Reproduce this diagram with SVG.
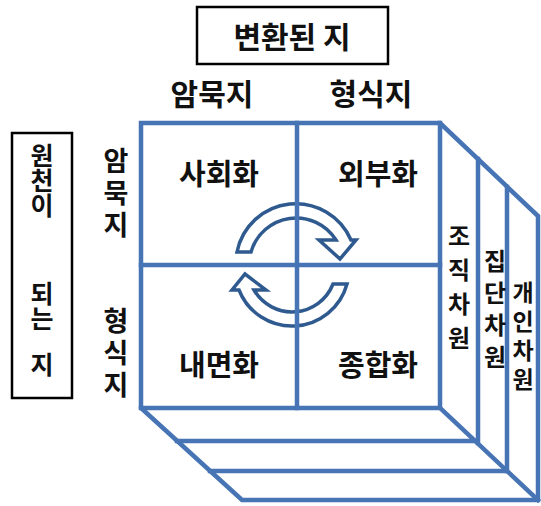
<svg xmlns="http://www.w3.org/2000/svg" width="541" height="506" viewBox="0 0 541 506">
<style>
.ln{fill:none;stroke:#4674B4;stroke-width:4.5;stroke-linejoin:miter;stroke-linecap:square}
.arw{fill:#ffffff;stroke:#2F5A8F;stroke-width:3.5;stroke-linejoin:miter}
.box{fill:#ffffff;stroke:#000000;stroke-width:2.5}
.t{font-family:"Noto Sans CJK KR","Noto Sans",sans-serif;font-weight:bold;fill:#111111;text-anchor:middle}
.vt{font-family:"Noto Sans CJK KR","Noto Sans",sans-serif;font-weight:bold;fill:#111111;writing-mode:vertical-rl;text-orientation:upright;text-anchor:start}
.big{font-size:30px}
.q{font-size:29px}
.side{font-size:27px;letter-spacing:5px}
.v{font-size:25px}
.r{font-size:24px}
</style>
<rect width="541" height="506" fill="#ffffff"/>
<g id="cycle-arrows">
<path class="arw" d="M237,252 A60,60 0 0 1 351,240 L356,240 L340,259 L319,240 L336,240 A47,47 0 0 0 251,252 Z"/>
<path class="arw" d="M333,284 L347,284 A57,57 0 0 1 239,290 L232,290 L245,274 L266,290 L254,290 A44,44 0 0 0 333,284 Z"/>
</g>
<g id="connectors">
<path class="ln" d="M141,123 H440 L538,216 V500 H242 L141,408 Z"/>
<path class="ln" d="M440,123 V408 H141"/>
<path class="ln" d="M440,408 L538,500"/>
<path class="ln" d="M297,123 V408"/>
<path class="ln" d="M141,265 H440"/>
<path class="ln" d="M478,159 V443"/>
<path class="ln" d="M177,441 H476"/>
<path class="ln" d="M507,187 V471"/>
<path class="ln" d="M210,471 H506"/>
</g>
<g id="title">
<rect class="box" x="197" y="7" width="191" height="57"/>
<text class="t big" x="292" y="48">변환된 지</text>
</g>
<g id="col-tacit"><text class="t big" x="212" y="105">암묵지</text></g>
<g id="col-explicit"><text class="t big" x="371" y="105">형식지</text></g>
<g id="source">
<rect class="box" x="12" y="133" width="60" height="265"/>
<text class="vt v" x="42" y="143">원천이</text>
<text class="vt v" x="42" y="281">되는</text>
<text class="vt v" x="42" y="352">지</text>
</g>
<g id="row-tacit"><text class="vt side" x="116" y="147">암묵지</text></g>
<g id="row-explicit"><text class="vt side" x="116" y="307">형식지</text></g>
<g id="socialization"><text class="t q" x="219" y="185">사회화</text></g>
<g id="externalization"><text class="t q" x="378" y="185">외부화</text></g>
<g id="internalization"><text class="t q" x="219" y="376">내면화</text></g>
<g id="combination"><text class="t q" x="378" y="376">종합화</text></g>
<g id="org-level"><text class="vt r" x="459" y="224" style="letter-spacing:10px">조직차원</text></g>
<g id="group-level"><text class="vt r" x="495" y="249" style="letter-spacing:8px">집단차원</text></g>
<g id="individual-level"><text class="vt" x="523" y="281" style="font-size:23px;letter-spacing:6px">개인차원</text></g>
</svg>
